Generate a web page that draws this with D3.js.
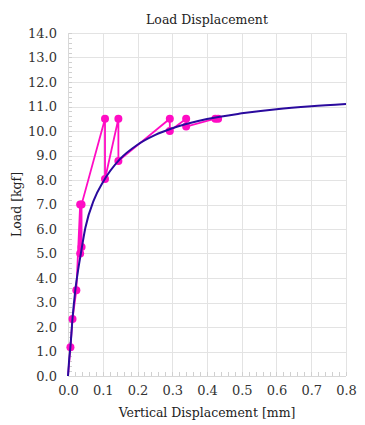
<!DOCTYPE html>
<html><head><meta charset="utf-8">
<script src="https://cdn.jsdelivr.net/npm/d3@7"></script>
<style>body{margin:0;background:#fff}svg{display:block}</style>
</head><body>
<svg id="c" width="365" height="425"></svg>
<script>
// Measured series (pink)
const measX = [0, 0.007, 0.013, 0.024, 0.035, 0.035, 0.039, 0.039, 0.1065, 0.1065, 0.145, 0.145, 0.293, 0.293, 0.340, 0.340, 0.424, 0.432];
const measY = [0, 1.17, 2.33, 3.5, 7.0, 5.0, 5.27, 7.0, 10.5, 8.04, 10.5, 8.78, 10.5, 10.0, 10.5, 10.18, 10.5, 10.5];
// Fitted curve (blue)
const curveX = [0, 0.003, 0.007, 0.013, 0.021, 0.03, 0.037, 0.05, 0.075, 0.1, 0.15, 0.2, 0.25, 0.3, 0.4, 0.5, 0.6, 0.7, 0.8];
const curveY = [0, 0.6, 1.2, 2.35, 3.5, 4.4, 5.0, 6.05, 7.2, 7.9, 8.86, 9.44, 9.83, 10.11, 10.49, 10.72, 10.89, 11.01, 11.1];
const xTicks = [0, 0.1, 0.2, 0.3, 0.4, 0.5, 0.6, 0.7, 0.8];
const yTicks = [0,1,2,3,4,5,6,7,8,9,10,11,12,13,14];
const title = "Load Displacement";
const xTitle = "Vertical Displacement [mm]";
const yTitle = "Load [kgf]";

const L = 68, R = 346, T = 33, B = 376;
const font = "'DejaVu Serif', 'Liberation Serif', serif";
const svg = d3.select("#c");
const x = d3.scaleLinear().domain([0, 0.8]).range([L, R]);
const y = d3.scaleLinear().domain([0, 14]).range([B, T]);

// gridlines
svg.append("g").selectAll("line").data(xTicks.slice(1)).join("line")
  .attr("x1", d => Math.round(x(d))+0.5).attr("x2", d => Math.round(x(d))+0.5).attr("y1", T).attr("y2", B)
  .attr("stroke", "#e3e3e3").attr("stroke-width", 1);
svg.append("g").selectAll("line").data(yTicks.slice(1)).join("line")
  .attr("x1", L).attr("x2", R).attr("y1", d => Math.round(y(d))+0.5).attr("y2", d => Math.round(y(d))+0.5)
  .attr("stroke", "#e3e3e3").attr("stroke-width", 1);

// minor ticks
const yMinor = d3.range(0, 14.001, 0.2);
svg.append("g").selectAll("line").data(yMinor).join("line")
  .attr("x1", L).attr("x2", L+4).attr("y1", d => Math.round(y(d))+0.5).attr("y2", d => Math.round(y(d))+0.5)
  .attr("stroke", "#d0d0d0");
const xMinor = d3.range(0, 0.8001, 0.02);
svg.append("g").selectAll("line").data(xMinor).join("line")
  .attr("x1", d => Math.round(x(d))+0.5).attr("x2", d => Math.round(x(d))+0.5).attr("y1", B).attr("y2", B-4)
  .attr("stroke", "#d0d0d0");

// axis lines
svg.append("line").attr("x1", L+0.5).attr("x2", L+0.5).attr("y1", T).attr("y2", B).attr("stroke", "#d8d8d8");
svg.append("line").attr("x1", L).attr("x2", R).attr("y1", B+0.5).attr("y2", B+0.5).attr("stroke", "#d8d8d8");

// axes labels via d3 axes
const yAxis = svg.append("g").attr("transform", `translate(${L},0)`)
  .call(d3.axisLeft(y).tickValues(yTicks).tickFormat(d3.format(".1f")).tickSize(0).tickPadding(11));
const xAxis = svg.append("g").attr("transform", `translate(0,${B})`)
  .call(d3.axisBottom(x).tickValues(xTicks).tickFormat(d3.format(".1f")).tickSize(0).tickPadding(10));
[yAxis, xAxis].forEach(g => {
  g.select(".domain").remove();
  g.selectAll("text").attr("font-family", font).attr("font-size", 13).attr("fill", "#333");
});

// titles
svg.append("text").attr("x", (L+R)/2).attr("y", 24).attr("text-anchor", "middle")
  .attr("font-family", font).attr("font-size", 12.5).attr("fill", "#222").text(title);
svg.append("text").attr("x", (L+R)/2).attr("y", 417).attr("text-anchor", "middle")
  .attr("font-family", font).attr("font-size", 12.5).attr("fill", "#222").text(xTitle);
svg.append("text").attr("transform", `translate(21,${(T+B)/2}) rotate(-90)`).attr("text-anchor", "middle")
  .attr("font-family", font).attr("font-size", 12.5).attr("fill", "#222").text(yTitle);

// measured line + points
const meas = measX.map((v, i) => [v, measY[i]]);
svg.append("path").datum(meas)
  .attr("d", d3.line().x(d => x(d[0])).y(d => y(d[1])))
  .attr("fill", "none").attr("stroke", "#ff0cc4").attr("stroke-width", 1.8);
svg.append("g").selectAll("circle").data(meas.slice(1)).join("circle")
  .attr("cx", d => x(d[0])).attr("cy", d => y(d[1])).attr("r", 4).attr("fill", "#ff0cc4");

// curve
const curve = curveX.map((v, i) => [v, curveY[i]]);
svg.append("path").datum(curve)
  .attr("d", d3.line().x(d => x(d[0])).y(d => y(d[1])).curve(d3.curveMonotoneX))
  .attr("fill", "none").attr("stroke", "#2a0a9e").attr("stroke-width", 2);
</script>
</body></html>
